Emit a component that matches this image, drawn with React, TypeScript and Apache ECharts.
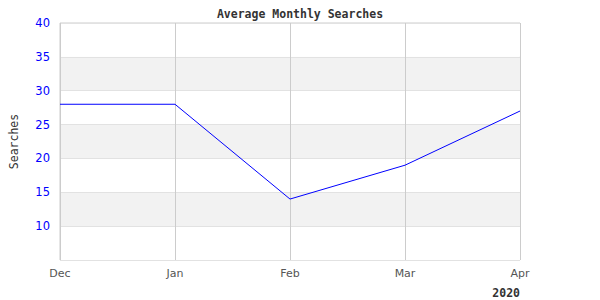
import React, { useEffect, useRef } from "react";
import * as echarts from "echarts";

const categories = ["Dec", "Jan", "Feb", "Mar", "Apr"];
const searches = [28, 28, 14, 19, 27];
const yearLabel = "2020";

export default function App() {
  const ref = useRef<HTMLDivElement>(null);
  useEffect(() => {
    if (!ref.current) return;
    document.body.style.margin = "0";
    const chart = echarts.init(ref.current, null, { renderer: "svg" });
    chart.setOption({
      animation: false,
      backgroundColor: "#ffffff",
      title: {
        text: "Average Monthly Searches",
        left: "center",
        top: 3,
        textStyle: {
          fontFamily: "DejaVu Sans Mono",
          fontWeight: "bold",
          fontSize: 11.5,
          color: "#333333",
        },
      },
      grid: {
        left: 60,
        right: 80,
        top: 23,
        bottom: 40,
        show: true,
        borderColor: "#cccccc",
        borderWidth: 1,
        backgroundColor: "transparent",
      },
      xAxis: {
        type: "category",
        data: categories,
        boundaryGap: false,
        axisLine: { show: false },
        axisTick: { show: false },
        axisLabel: {
          color: "#555555",
          fontFamily: "DejaVu Sans",
          fontSize: 11,
          margin: 8,
        },
        splitLine: { show: true, lineStyle: { color: "#cccccc", width: 1 } },
      },
      yAxis: {
        type: "value",
        min: 5,
        max: 40,
        interval: 5,
        name: "Searches",
        nameLocation: "middle",
        nameGap: 40,
        nameTextStyle: {
          fontFamily: "DejaVu Sans Mono",
          fontSize: 11.5,
          color: "#333333",
        },
        axisLine: { show: false },
        axisTick: { show: false },
        axisLabel: {
          color: "#0000ff",
          fontFamily: "DejaVu Sans",
          fontSize: 11.5,
          margin: 10,
          showMinLabel: false,
        },
        splitLine: { show: true, lineStyle: { color: "#e2e2e2", width: 1 } },
        splitArea: { show: true, areaStyle: { color: ["#ffffff", "#f2f2f2"] } },
      },
      series: [
        {
          type: "line",
          data: searches,
          symbol: "none",
          lineStyle: { color: "#0000ff", width: 1 },
        },
      ],
      graphic: [
        {
          type: "text",
          right: 80,
          top: 287,
          style: {
            text: yearLabel,
            fontFamily: "DejaVu Sans Mono",
            fontWeight: "bold",
            fontSize: 11.5,
            fill: "#333333",
          },
        },
      ],
    });
    return () => chart.dispose();
  }, []);
  return <div ref={ref} style={{ width: 600, height: 300 }} />;
}
